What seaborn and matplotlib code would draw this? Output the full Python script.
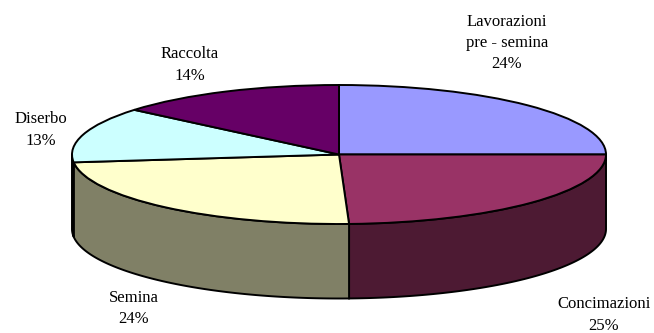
import numpy as np
import matplotlib
matplotlib.use("Agg")
import matplotlib.pyplot as plt
import seaborn as sns

# Printed labels
categories = ["Lavorazioni\npre - semina", "Concimazioni", "Semina", "Diserbo", "Raccolta"]
printed_percent = [24, 25, 24, 13, 14]
slice_shares = [25.0, 24.4, 23.8, 12.9, 13.9]
top_colors = ["#9999FF", "#993366", "#FFFFCC", "#CCFFFF", "#660066"]
side_colors = ["#4D4D80", "#4D1A33", "#808066", "#668080", "#330033"]

W, H = 654, 333
CX, CY, RX, RY, DEPTH = 339, 154.5, 267, 69.5, 74.5
label_px = [(507, 43), (604, 315), (134, 308.5), (41, 130), (190, 65)]

sns.set_theme(style="white", rc={"font.family": ["Liberation Serif", "DejaVu Serif"]})
palette = sns.color_palette(top_colors)
side_palette = sns.color_palette(side_colors)

fig = plt.figure(figsize=(W / 100, H / 100), dpi=100)
ax = fig.add_axes([0, 0, 1, 1])
ax.pie(slice_shares, colors=palette, startangle=90, counterclock=False,
       wedgeprops=dict(edgecolor="black", linewidth=1.4, zorder=3))
ax.set_aspect("auto")
ax.set_xlim((0 - CX) / RX, (W - CX) / RX)
ax.set_ylim((CY - H) / RY, CY / RY)
ax.axis("off")

depth = DEPTH / RY
edges = np.cumsum([0] + slice_shares) * 3.6
for start, end, col in zip(edges[:-1], edges[1:], side_palette):
    lo, hi = max(start, 90), min(end, 270)
    if hi <= lo:
        continue
    t = np.radians(np.linspace(lo, hi, 120))
    x, y = np.sin(t), np.cos(t)
    ax.fill(np.r_[x, x[::-1]], np.r_[y, y[::-1] - depth], facecolor=col,
            edgecolor="black", linewidth=1.4, zorder=2)

for name, pct, (px, py) in zip(categories, printed_percent, label_px):
    fig.text(px / W, 1 - py / H, f"{name}\n{pct}%", ha="center", va="center",
             fontsize=12, color="black", linespacing=1.44)

fig.savefig("out.png", dpi=100)
